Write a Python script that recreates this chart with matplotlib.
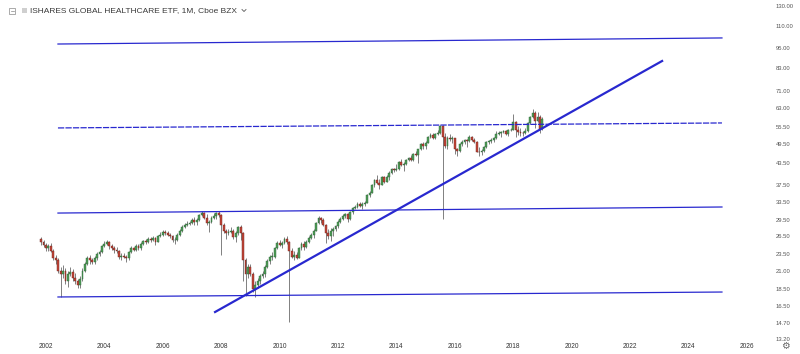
import matplotlib
matplotlib.use("Agg")
import matplotlib.pyplot as plt
from matplotlib.patches import Rectangle
from matplotlib.ticker import NullLocator
from matplotlib.lines import Line2D

# monthly candles, Nov 2001 .. Jan 2019
start_year, start_month = 2001, 11
first_open = 26.0
closes = [
    25.4, 25.0,
    24.5, 24.8, 24.0, 22.8, 22.5, 21.0, 20.5, 21.0, 19.5, 20.5, 20.8, 20.0,
    19.5, 19.0, 19.8, 21.0, 22.0, 22.8, 22.5, 22.3, 22.8, 23.5, 23.8, 24.8,
    25.2, 25.5, 24.8, 24.5, 24.2, 24.0, 23.0, 23.2, 23.0, 22.8, 23.8, 24.5,
    24.2, 24.8, 24.5, 25.2, 25.6, 25.5, 26.0, 25.8, 26.2, 25.5, 26.5, 26.8,
    27.2, 27.0, 26.8, 26.5, 25.8, 25.9, 26.8, 27.5, 28.2, 28.6, 28.8, 29.0,
    29.5, 29.2, 29.6, 30.5, 31.0, 30.0, 29.0, 29.2, 30.0, 30.4, 31.0, 30.6,
    28.5, 27.5, 27.0, 27.3, 27.5, 26.3, 27.0, 28.2, 27.0, 22.5, 20.5, 21.5,
    20.5, 18.5, 19.0, 19.5, 20.2, 20.5, 21.5, 22.4, 23.0, 23.0, 24.5, 25.3,
    25.0, 25.3, 26.0, 25.4, 24.0, 23.0, 23.4, 22.9, 24.4, 25.2, 24.6, 25.5,
    26.2, 26.8, 27.5, 29.0, 30.0, 29.6, 28.5, 27.0, 26.5, 27.5, 27.8, 28.3,
    29.2, 29.8, 30.4, 30.8, 29.8, 31.3, 32.0, 32.2, 33.0, 32.6, 32.9, 33.2,
    35.0, 35.6, 37.5, 38.8, 38.0, 37.5, 39.5, 38.3, 39.6, 40.8, 41.8, 41.5,
    41.8, 43.8, 43.0, 43.3, 44.3, 45.0, 44.5, 46.2, 46.0, 47.8, 49.5, 48.8,
    50.0, 52.0, 52.5, 51.5, 53.0, 53.2, 56.0, 52.0, 49.0, 51.5, 51.2, 51.4,
    47.8, 47.2, 49.5, 50.2, 50.8, 50.5, 52.0, 50.8, 50.2, 47.0, 46.8, 47.2,
    48.5, 50.2, 50.5, 51.0, 51.5, 53.0, 53.3, 53.6, 54.0, 53.0, 54.3, 54.5,
    57.5, 54.5, 53.8, 53.5, 53.2, 54.0, 57.0, 59.5, 61.0, 58.0, 59.5, 54.8,
    58.6,
]
highs = [
    26.3, 25.8,
    25.3, 25.2, 25.3, 24.3, 23.3, 22.8, 21.5, 21.8, 21.3, 21.0, 21.5, 21.2,
    20.6, 19.8, 20.2, 21.3, 22.3, 23.2, 23.3, 22.9, 23.2, 23.8, 24.2, 25.0,
    25.6, 25.9, 25.7, 25.2, 24.8, 24.6, 24.2, 23.6, 23.7, 23.4, 24.0, 24.8,
    24.7, 25.1, 25.2, 25.5, 25.9, 26.0, 26.3, 26.4, 26.5, 26.4, 26.7, 27.2,
    27.6, 27.6, 27.4, 27.1, 26.8, 26.3, 27.0, 27.8, 28.5, 29.0, 29.3, 29.4,
    29.9, 30.2, 29.9, 30.8, 31.4, 31.3, 30.7, 29.6, 30.3, 31.0, 31.3, 31.4,
    30.8, 28.9, 27.8, 27.9, 28.2, 27.8, 27.5, 28.4, 28.6, 27.2, 22.9, 21.9,
    22.0, 20.8, 19.5, 20.0, 20.5, 20.9, 21.8, 22.7, 23.3, 23.8, 24.7, 25.6,
    25.9, 25.6, 26.4, 26.5, 25.6, 24.5, 23.9, 23.8, 24.6, 25.4, 25.6, 25.8,
    26.5, 27.1, 27.8, 29.2, 30.3, 30.2, 30.0, 28.7, 27.8, 28.0, 28.2, 28.6,
    29.5, 30.1, 30.7, 31.0, 31.0, 31.5, 32.4, 32.7, 33.5, 33.4, 33.3, 33.6,
    35.2, 36.0, 37.7, 39.1, 40.0, 39.0, 39.9, 39.9, 40.1, 41.2, 42.1, 42.2,
    43.1, 44.2, 44.6, 43.9, 44.6, 45.4, 45.8, 46.5, 47.2, 48.0, 49.8, 50.2,
    50.6, 52.4, 53.3, 53.5, 53.5, 54.3, 56.5, 56.3, 53.2, 52.2, 52.8, 52.3,
    51.5, 48.2, 49.9, 50.8, 51.1, 51.2, 52.6, 52.2, 51.4, 50.4, 48.5, 47.8,
    49.0, 50.6, 51.0, 51.6, 52.0, 54.2, 53.9, 54.0, 54.6, 54.5, 54.9, 55.2,
    60.5, 58.0, 56.0, 55.0, 54.2, 55.0, 57.3, 59.8, 62.8, 61.8, 61.5, 60.2,
    59.3,
]
lows = [
    25.0, 24.6,
    24.0, 24.0, 23.8, 22.5, 22.0, 20.6, 17.5, 20.0, 19.2, 18.8, 20.2, 19.6,
    19.2, 18.6, 18.7, 19.6, 20.8, 21.8, 22.0, 21.9, 22.0, 22.6, 23.2, 23.6,
    24.6, 25.0, 24.3, 24.1, 23.7, 23.6, 22.7, 22.6, 22.8, 22.2, 22.6, 23.6,
    23.9, 24.0, 24.2, 24.2, 25.0, 25.2, 25.3, 25.5, 25.6, 25.0, 25.4, 26.3,
    26.6, 26.8, 26.5, 26.1, 25.5, 25.2, 25.6, 26.6, 27.3, 28.0, 28.3, 28.5,
    28.8, 28.6, 28.6, 29.4, 30.3, 29.8, 28.6, 27.2, 29.0, 29.8, 29.8, 30.2,
    23.3, 27.1, 26.0, 26.8, 27.0, 26.0, 25.5, 26.8, 25.8, 19.5, 17.7, 20.0,
    20.2, 18.2, 17.6, 18.6, 19.2, 19.9, 20.1, 21.3, 22.0, 22.5, 22.8, 24.3,
    24.8, 24.5, 25.2, 25.2, 14.8, 22.8, 22.6, 22.7, 22.8, 24.2, 24.2, 24.4,
    25.3, 26.0, 26.2, 27.4, 28.8, 29.0, 28.3, 25.3, 26.0, 25.6, 26.6, 27.4,
    28.1, 29.0, 29.6, 30.0, 29.2, 29.5, 30.9, 31.8, 32.0, 32.2, 31.8, 32.5,
    33.1, 34.6, 35.5, 37.0, 37.8, 36.6, 37.4, 38.0, 38.2, 38.9, 40.5, 40.9,
    41.2, 41.4, 42.6, 41.2, 43.0, 44.0, 44.2, 44.2, 45.5, 43.5, 47.6, 47.8,
    48.0, 49.8, 51.5, 51.2, 51.3, 52.6, 53.0, 29.8, 48.3, 47.9, 50.6, 49.8,
    46.2, 45.5, 47.0, 48.8, 49.6, 48.4, 50.2, 50.5, 49.8, 46.8, 45.5, 46.0,
    47.0, 48.3, 49.6, 49.8, 50.2, 51.2, 52.5, 52.0, 53.2, 52.6, 52.2, 53.9,
    54.3, 52.0, 52.5, 52.4, 52.3, 52.8, 53.8, 56.8, 59.2, 55.0, 57.3, 53.5,
    54.5,
]

# drawn trend / channel lines: (x0, y0, x1, y1) in decimal years and price
hlines = [
    (2002.41, 97.5, 2025.15, 101.6),
    (2002.41, 31.0, 2025.15, 32.3),
    (2002.41, 17.55, 2025.15, 18.15),
]
dashed_line = (2002.41, 55.2, 2025.15, 57.1)
trend_line = (2007.79, 15.85, 2023.1, 86.9)

price_ticks = [13.2, 14.7, 16.5, 18.5, 21.0, 23.5, 26.5, 29.5, 33.5, 37.5,
               43.5, 49.5, 55.5, 63.0, 71.0, 83.0, 95.0, 110.0]
year_ticks = list(range(2002, 2027, 2))

title = "ISHARES GLOBAL HEALTHCARE ETF, 1M, Cboe BZX"

W, H = 800, 354
fig = plt.figure(figsize=(8, 3.54), dpi=100)
ax = fig.add_axes([0, 15 / H, 757 / W, 339 / H])
ax.set_yscale("log")
ax.set_xlim(2000.425, 2026.35)
ax.set_ylim(13.2, 131.4)

opens = [first_open] + closes[:-1]
xs = [start_year + (start_month - 1 + i) / 12 for i in range(len(closes))]
up_col, up_edge = "#4f9d58", "#2a6235"
dn_col, dn_edge = "#c4473a", "#6b2018"
for x, o, h, l, c in zip(xs, opens, highs, lows, closes):
    ax.vlines(x, l, h, color="#777777", lw=0.65, zorder=2)
    lo, hi = min(o, c), max(o, c)
    if hi - lo < 0.1:
        hi = lo + 0.1
    up = c >= o
    ax.add_patch(Rectangle((x - 0.032, lo), 0.064, hi - lo,
                           facecolor=up_col if up else dn_col,
                           edgecolor=up_edge if up else dn_edge,
                           lw=0.3, zorder=3))

blue = "#2828cf"
for x0, y0, x1, y1 in hlines:
    ax.plot([x0, x1], [y0, y1], color=blue, lw=0.9, zorder=4)
x0, y0, x1, y1 = dashed_line
ax.plot([x0, x1], [y0, y1], color=blue, lw=0.9, dashes=(5, 1), zorder=4)
x0, y0, x1, y1 = trend_line
ax.plot([x0, x1], [y0, y1], color=blue, lw=1.6, zorder=5)

for s in ax.spines.values():
    s.set_visible(False)

ax.yaxis.tick_right()
ax.yaxis.set_minor_locator(NullLocator())
ax.set_yticks(price_ticks)
ax.set_yticklabels(["%.2f" % v for v in price_ticks])
ax.set_xticks(year_ticks)
ax.set_xticklabels([str(y) for y in year_ticks])
ax.tick_params(axis="y", length=0, pad=13.5, labelsize=4.2, labelcolor="#555555")
ax.tick_params(axis="x", length=0, pad=3, labelsize=4.7, labelcolor="#333333")
for lab in ax.get_xticklabels() + ax.get_yticklabels():
    lab.set_fontfamily("Liberation Sans")

# top price label, pinned inside the scale like the original
fig.text(776 / W, 1 - 7 / H, "130.00", fontsize=4.2, color="#555555",
         family="Liberation Sans", ha="left", va="center")

# legend line at top-left
fig.patches.append(Rectangle((9 / W, 1 - 13.5 / H), 6 / W, 6 / H, fill=False,
                             edgecolor="#888888", lw=0.5,
                             transform=fig.transFigure, figure=fig))
fig.lines.append(Line2D([10.5 / W, 13.5 / W], [1 - 10.5 / H, 1 - 10.5 / H],
                        color="#888888", lw=0.5, transform=fig.transFigure))
fig.patches.append(Rectangle((22 / W, 1 - 13 / H), 5 / W, 5 / H,
                             facecolor="#cfcfcf", edgecolor="none",
                             transform=fig.transFigure, figure=fig))
fig.text(30 / W, 1 - 10.5 / H, title, fontsize=6, color="#3a3a3a",
         family="Liberation Sans", ha="left", va="center")
fig.lines.append(Line2D([242 / W, 244 / W, 246 / W],
                        [1 - 9.5 / H, 1 - 11.5 / H, 1 - 9.5 / H],
                        color="#555555", lw=0.6, transform=fig.transFigure))

# settings gear
fig.text(785.5 / W, 1 - 346 / H, "\u2699", fontsize=7, color="#666666",
         family="DejaVu Sans", ha="center", va="center")

fig.savefig("out.png", dpi=100, facecolor="white")
